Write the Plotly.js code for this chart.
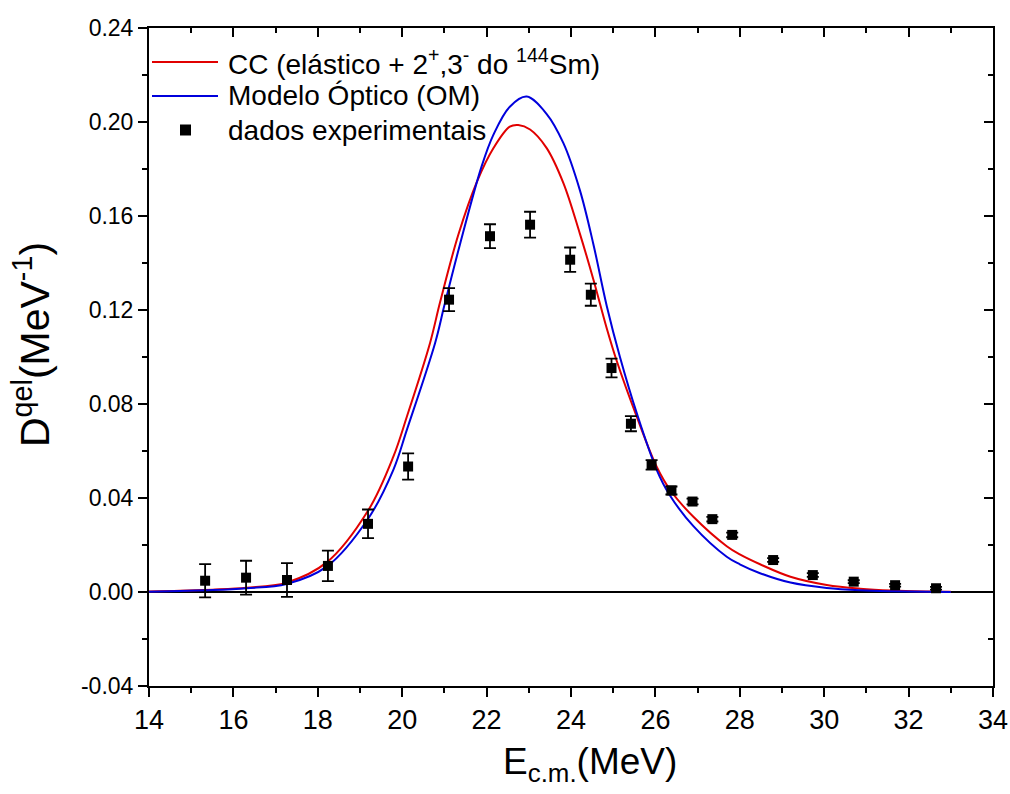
<!DOCTYPE html>
<html>
<head>
<meta charset="utf-8">
<script src="https://cdn.plot.ly/plotly-3.0.1.min.js"></script>
<style>html,body{margin:0;padding:0;background:#fff;}#chart{width:1010px;height:794px;}</style>
</head>
<body>
<div id="chart"></div>
<script>
// Coupled-channels (CC) curve
const ccX = [14.0, 14.73, 15.5, 16.31, 17.26, 18.21, 19.2, 19.79, 20.11, 20.66, 20.9, 21.33, 21.77, 22.16, 22.55, 22.75, 23.03, 23.42, 23.82, 24.21, 24.53, 24.85, 25.08, 25.56, 26.03, 26.35, 26.9, 27.69, 28.0, 28.48, 29.2, 30.06, 30.85, 31.6, 32.5, 33.0];
const ccY = [0.0002, 0.0005, 0.001, 0.0018, 0.004, 0.0126, 0.0349, 0.0576, 0.0746, 0.106, 0.1235, 0.152, 0.1745, 0.1888, 0.198, 0.1987, 0.1968, 0.189, 0.174, 0.1525, 0.133, 0.112, 0.0985, 0.0745, 0.0533, 0.0434, 0.032, 0.0195, 0.016, 0.0118, 0.0065, 0.003, 0.0014, 0.0006, 0.0002, 0.0001];
// Optical model (OM) curve
const omX = [14.0, 14.73, 15.5, 16.31, 17.26, 18.21, 19.2, 19.79, 20.11, 20.78, 21.0, 21.37, 21.88, 22.16, 22.55, 22.95, 23.42, 23.82, 24.21, 24.53, 24.85, 25.16, 25.56, 26.03, 26.33, 26.9, 27.69, 28.0, 28.48, 29.2, 30.06, 30.85, 31.6, 32.5, 33.0];
const omY = [0.0001, 0.0004, 0.0008, 0.0016, 0.0034, 0.0108, 0.0314, 0.052, 0.069, 0.106, 0.122, 0.148, 0.181, 0.1945, 0.2065, 0.2108, 0.2035, 0.191, 0.171, 0.148, 0.1215, 0.100, 0.076, 0.052, 0.0415, 0.028, 0.015, 0.0118, 0.008, 0.004, 0.0017, 0.0007, 0.0003, 0.0001, 0.0];
// Experimental data
const expX = [15.33, 16.30, 17.27, 18.24, 19.19, 20.14, 21.11, 22.08, 23.03, 23.98, 24.47, 24.96, 25.42, 25.91, 26.38, 26.88, 27.35, 27.82, 28.79, 29.73, 30.70, 31.68, 32.65];
const expY = [0.0048, 0.0061, 0.0051, 0.0111, 0.029, 0.0534, 0.1244, 0.1514, 0.1563, 0.1414, 0.1265, 0.0953, 0.0716, 0.0541, 0.0432, 0.0385, 0.031, 0.0243, 0.0136, 0.0072, 0.0044, 0.0029, 0.0016];
const expErr = [0.0071, 0.0072, 0.0072, 0.0065, 0.0061, 0.0056, 0.0049, 0.0051, 0.0055, 0.0052, 0.0047, 0.004, 0.0032, 0.002, 0.0017, 0.0012, 0.001, 0.001, 0.0008, 0.0008, 0.0006, 0.0006, 0.0006];
const xTicks = [14, 16, 18, 20, 22, 24, 26, 28, 30, 32, 34];
const yTicks = [-0.04, 0.00, 0.04, 0.08, 0.12, 0.16, 0.20, 0.24];

const labelCC = 'CC (elástico + 2<sup>+</sup>,3<sup>-</sup> do <sup>144</sup>Sm)';
const labelOM = 'Modelo Óptico (OM)';
const labelExp = 'dados experimentais';
const xTitle = 'E<sub>c.m.</sub>(MeV)';
const yTitle = 'D<sup>qel</sup>(MeV<sup>-1</sup>)';

const red = 'rgb(225,0,0)';
const blue = 'rgb(0,0,220)';

const traces = [
  {x: ccX, y: ccY, type: 'scatter', mode: 'lines', name: labelCC,
   line: {color: red, width: 2, shape: 'spline', smoothing: 1}},
  {x: omX, y: omY, type: 'scatter', mode: 'lines', name: labelOM,
   line: {color: blue, width: 2, shape: 'spline', smoothing: 1}},
  {x: expX, y: expY, type: 'scatter', mode: 'markers', name: labelExp,
   marker: {symbol: 'square', size: 10, color: '#000'},
   error_y: {type: 'data', array: expErr, visible: true, color: '#000', thickness: 1.8, width: 6}},
  {x: [], y: [], xaxis: 'x2', yaxis: 'y2', showlegend: false, hoverinfo: 'skip'}
];

const sans = '"Liberation Sans", Arial, sans-serif';

// plot-area geometry (pixels) and helpers for paper coordinates
const L = 149, T = 28, W = 844, H = 658;
const px = v => (v - L) / W;
const py = v => (T + H - v) / H;
const legFont = {family: sans, size: 28, color: '#000'};
const legendRows = [
  {text: labelCC, y: 62, kind: 'line', color: red},
  {text: labelOM, y: 96, kind: 'line', color: blue},
  {text: labelExp, y: 130, kind: 'square', color: '#000'}
];
const shapes = [];
const annotations = [];
legendRows.forEach(r => {
  if (r.kind === 'line') {
    shapes.push({type: 'line', xref: 'paper', yref: 'paper', x0: px(152), x1: px(218), y0: py(r.y), y1: py(r.y),
                 line: {color: r.color, width: 2}});
  } else {
    shapes.push({type: 'rect', xref: 'paper', yref: 'paper', x0: px(180), x1: px(191), y0: py(r.y + 5.5), y1: py(r.y - 5.5),
                 fillcolor: '#000', line: {width: 0}});
  }
  annotations.push({xref: 'paper', yref: 'paper', x: px(226), y: py(r.y), xanchor: 'left', yanchor: 'middle',
                    text: r.text, showarrow: false, font: legFont});
});
// axis titles
annotations.push({xref: 'paper', yref: 'paper', x: px(32), y: py(345), xanchor: 'center', yanchor: 'middle',
                  textangle: -90, text: yTitle, showarrow: false, font: {family: sans, size: 41, color: '#000'}});
annotations.push({xref: 'paper', yref: 'paper', x: px(590), y: py(764), xanchor: 'center', yanchor: 'middle',
                  text: xTitle, showarrow: false, font: {family: sans, size: 37, color: '#000'}});

const layout = {
  width: 1010, height: 794,
  margin: {l: L, r: 1010 - L - W, t: T, b: 794 - T - H},
  paper_bgcolor: '#fff', plot_bgcolor: '#fff',
  showlegend: false,
  shapes: shapes,
  annotations: annotations,
  xaxis: {
    range: [14, 34], tickvals: xTicks, ticktext: xTicks.map(String),
    ticks: 'outside', ticklen: 9, tickwidth: 2, tickcolor: '#000',
    minor: {dtick: 1, ticks: 'outside', ticklen: 5, tickwidth: 2, tickcolor: '#000'},
    showline: true, linecolor: '#000', linewidth: 2, showgrid: false, zeroline: false,
    tickfont: {family: sans, size: 27, color: '#000'}
  },
  yaxis: {
    range: [-0.04, 0.24], tickvals: yTicks, ticktext: yTicks.map(v => v.toFixed(2)),
    ticks: 'outside', ticklen: 9, tickwidth: 2, tickcolor: '#000',
    minor: {dtick: 0.02, ticks: 'outside', ticklen: 5, tickwidth: 2, tickcolor: '#000'},
    showline: true, linecolor: '#000', linewidth: 2, showgrid: false,
    zeroline: true, zerolinecolor: '#000', zerolinewidth: 1.6,
    tickfont: {family: sans, size: 23, color: '#000'}
  },
  xaxis2: {
    overlaying: 'x', side: 'top', anchor: 'y', range: [14, 34], tickvals: xTicks,
    showticklabels: false, ticks: 'inside', ticklen: 9, tickwidth: 2, tickcolor: '#000',
    minor: {dtick: 1, ticks: 'inside', ticklen: 5, tickwidth: 2, tickcolor: '#000'},
    showline: true, linecolor: '#000', linewidth: 2, showgrid: false, zeroline: false
  },
  yaxis2: {
    overlaying: 'y', side: 'right', anchor: 'x', range: [-0.04, 0.24], tickvals: yTicks,
    showticklabels: false, ticks: 'inside', ticklen: 9, tickwidth: 2, tickcolor: '#000',
    minor: {dtick: 0.02, ticks: 'inside', ticklen: 5, tickwidth: 2, tickcolor: '#000'},
    showline: true, linecolor: '#000', linewidth: 2, showgrid: false, zeroline: false
  }
};

Plotly.newPlot('chart', traces, layout, {staticPlot: true, displayModeBar: false});
</script>
</body>
</html>
